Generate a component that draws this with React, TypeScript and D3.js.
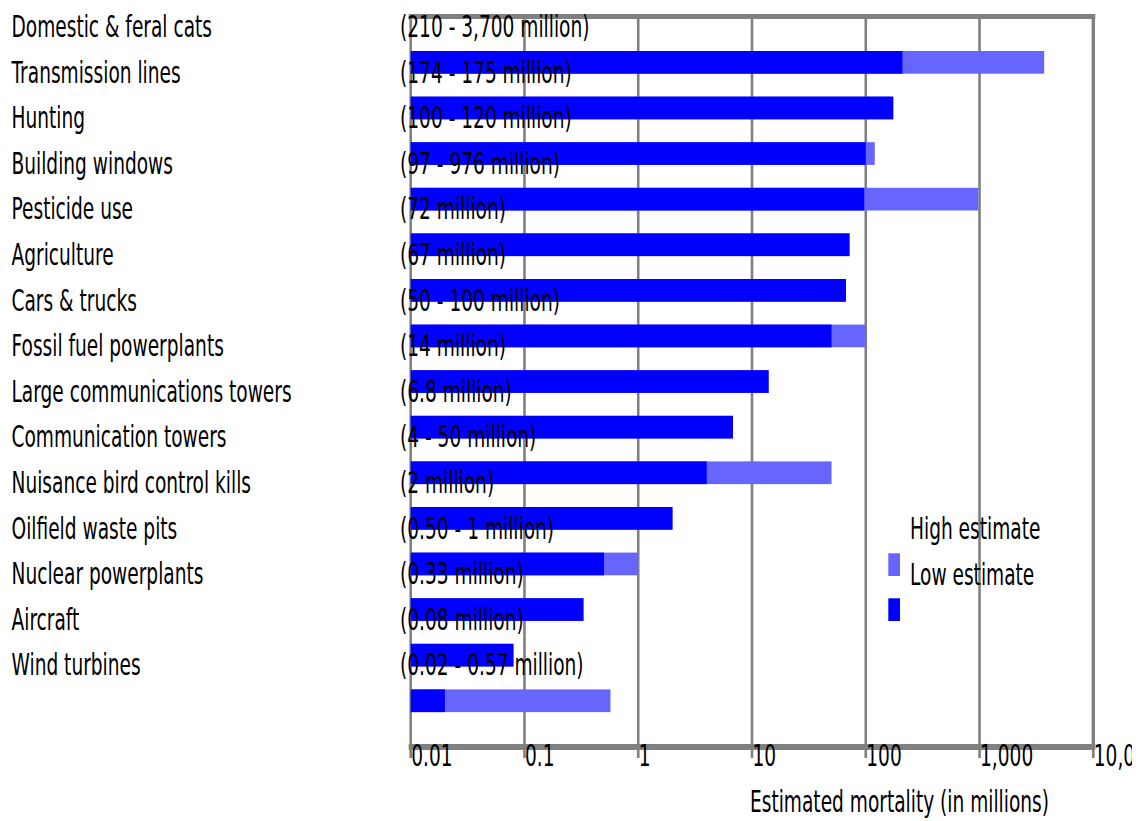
import React from "react";
import * as d3 from "d3";

// Annual bird deaths in the United States by cause (millions of birds)
const categories = [
  "Domestic & feral cats",
  "Transmission lines",
  "Hunting",
  "Building windows",
  "Pesticide use",
  "Agriculture",
  "Cars & trucks",
  "Fossil fuel powerplants",
  "Large communications towers",
  "Communication towers",
  "Nuisance bird control kills",
  "Oilfield waste pits",
  "Nuclear powerplants",
  "Aircraft",
  "Wind turbines",
];

const lowEstimates = [210, 174, 100, 97, 72, 67, 50, 14, 6.8, 4, 2, 0.5, 0.33, 0.08, 0.02];
const highEstimates = [3700, 175, 120, 976, 72, 67, 100, 14, 6.8, 50, 2, 1, 0.33, 0.08, 0.57];

const rangeLabels = [
  "(210 - 3,700 million)",
  "(174 - 175 million)",
  "(100 - 120 million)",
  "(97 - 976 million)",
  "(72 million)",
  "(67 million)",
  "(50 - 100 million)",
  "(14 million)",
  "(6.8 million)",
  "(4 - 50 million)",
  "(2 million)",
  "(0.50 - 1 million)",
  "(0.33 million)",
  "(0.08 million)",
  "(0.02 - 0.57 million)",
];

const tickValues = [0.01, 0.1, 1, 10, 100, 1000, 10000];
const tickLabels = ["0.01", "0.1", "1", "10", "100", "1,000", "10,000"];

const legendItems = ["High estimate", "Low estimate"];

const WIDTH = 1143;
const HEIGHT = 821;
const FONT = "'DejaVu Sans', sans-serif";
const FONT_SIZE = 30;
const SQUEEZE = 0.62;
const GRID = "#808080";
const LOW_COLOR = "#0000ff";
const HIGH_COLOR = "#6666ff";

const x = d3.scaleLog().domain([0.01, 10000]).range([410.7, 1093.3]);
const rowStep = 45.6;
const labelY = d3.scaleLinear().domain([0, 1]).range([37, 37 + rowStep]);
const barY = d3.scaleLinear().domain([0, 1]).range([51, 51 + rowStep]);
const barH = 22.7;

const FRAME_TOP = 16.5;
const AXIS_Y = 747;

function SText({ x0, y0, children }: { x0: number; y0: number; children: React.ReactNode }) {
  return (
    <text
      transform={`translate(${x0},${y0}) scale(${SQUEEZE},1)`}
      fontFamily={FONT}
      fontSize={FONT_SIZE}
      fill="#000"
    >
      {children}
    </text>
  );
}

export default function App() {
  const [x0, x1] = x.range();
  return (
    <svg
      width={WIDTH}
      height={HEIGHT}
      viewBox={`0 0 ${WIDTH} ${HEIGHT}`}
      style={{ position: "absolute", left: 0, top: 0, background: "#fff" }}
    >
      <defs>
        <clipPath id="canvas-clip">
          <rect x={0} y={0} width={1132} height={HEIGHT} />
        </clipPath>
      </defs>
      <rect width={WIDTH} height={HEIGHT} fill="#fff" />

      <g clipPath="url(#canvas-clip)">
        {/* vertical decade gridlines */}
        {tickValues.map((v) => (
          <line key={`g${v}`} x1={x(v)} x2={x(v)} y1={FRAME_TOP} y2={758} stroke={GRID} strokeWidth={2.6} />
        ))}

        {/* top frame edge and right border */}
        <line x1={x0 - 2} x2={x1 + 2} y1={FRAME_TOP} y2={FRAME_TOP} stroke={GRID} strokeWidth={5} />
        <line x1={x1} x2={x1} y1={FRAME_TOP} y2={AXIS_Y} stroke={GRID} strokeWidth={3.4} />

        {/* bars: high estimate underneath, low estimate on top */}
        {categories.map((c, i) => (
          <g key={`b${c}`}>
            <rect x={x0} y={barY(i)} width={x(highEstimates[i]) - x0} height={barH} fill={HIGH_COLOR} />
            <rect x={x0} y={barY(i)} width={x(lowEstimates[i]) - x0} height={barH} fill={LOW_COLOR} />
          </g>
        ))}

        {/* bottom axis */}
        <line x1={x0 - 2} x2={x1 + 2} y1={AXIS_Y} y2={AXIS_Y} stroke={GRID} strokeWidth={6} />

        {/* category names */}
        {categories.map((c, i) => (
          <SText key={`c${c}`} x0={11.5} y0={labelY(i)}>
            {c}
          </SText>
        ))}

        {/* range annotations */}
        {rangeLabels.map((r, i) => (
          <SText key={`r${i}`} x0={400} y0={labelY(i)}>
            {r}
          </SText>
        ))}

        {/* tick labels */}
        {tickValues.map((v, i) => (
          <SText key={`t${v}`} x0={x(v) + 0.5} y0={766}>
            {tickLabels[i]}
          </SText>
        ))}

        <SText x0={750} y0={811.5}>
          Estimated mortality (in millions)
        </SText>

        {/* legend */}
        <SText x0={910} y0={539}>
          {legendItems[0]}
        </SText>
        <SText x0={910} y0={585}>
          {legendItems[1]}
        </SText>
        <rect x={888.3} y={553.3} width={11.7} height={barH} fill={HIGH_COLOR} />
        <rect x={888.3} y={598.3} width={11.7} height={barH} fill={LOW_COLOR} />
      </g>
    </svg>
  );
}
